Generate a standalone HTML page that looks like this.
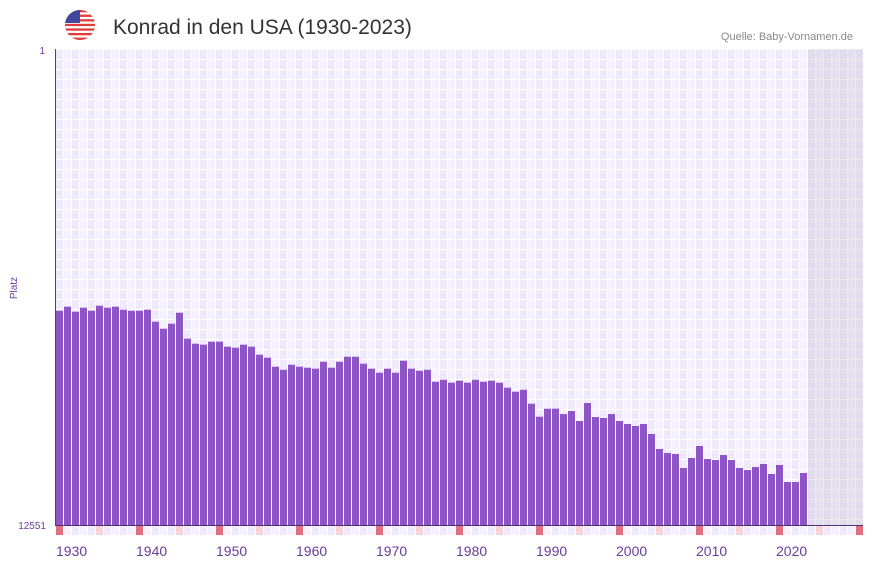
<!DOCTYPE html>
<html><head><meta charset="utf-8"><style>
body{margin:0;background:#fff;width:873px;height:567px;overflow:hidden;font-family:"Liberation Sans",sans-serif}
</style></head><body>
<svg id="chart" width="873" height="567">
<defs>
<clipPath id="flagclip"><circle cx="80" cy="25" r="15"/></clipPath>
<pattern id="cols" x="55" y="0" width="16" height="10" patternUnits="userSpaceOnUse">
<rect width="8" height="10" fill="#efeafa"/><rect x="8" width="8" height="10" fill="#f4f1fc"/>
<rect width="1" height="10" fill="#fff"/><rect x="8" width="1" height="10" fill="#fff"/>
<rect y="9" width="16" height="1" fill="#fff"/>
</pattern>
<pattern id="cols2" x="55" y="0" width="16" height="10" patternUnits="userSpaceOnUse">
<rect width="8" height="10" fill="#efeafa"/><rect x="8" width="8" height="10" fill="#f4f1fc"/>
<rect width="1" height="10" fill="#fff"/><rect x="8" width="1" height="10" fill="#fff"/>
</pattern>
</defs>
<g clip-path="url(#flagclip)">
<rect x="65" y="10" width="30" height="30" fill="#fff"/>
<rect x="65" y="10" width="30" height="2.3" fill="#e03c3c"/>
<rect x="65" y="14.6" width="30" height="2.3" fill="#e03c3c"/>
<rect x="65" y="19.2" width="30" height="2.3" fill="#e03c3c"/>
<rect x="65" y="23.8" width="30" height="2.3" fill="#e03c3c"/>
<rect x="65" y="28.4" width="30" height="2.3" fill="#e03c3c"/>
<rect x="65" y="33" width="30" height="2.3" fill="#e03c3c"/>
<rect x="65" y="37.6" width="30" height="2.4" fill="#e03c3c"/>
<rect x="65" y="10" width="15" height="13" fill="#41479b"/>
</g>
<text x="113" y="34" font-size="21" fill="#333" font-family="'Liberation Sans',sans-serif">Konrad in den USA (1930-2023)</text>
<text x="853" y="40" font-size="11" fill="#888" text-anchor="end">Quelle: Baby-Vornamen.de</text>
<rect x="55" y="49" width="808" height="476" fill="url(#cols)"/>
<rect x="55" y="526" width="808" height="9" fill="url(#cols2)"/>
<rect id="future" x="808" y="49" width="55" height="476" fill="#c8c0d2" opacity="0.35"/>
<g id="bars"></g>
<g id="marks"></g>
<g id="xlabels"></g>
<line x1="55.5" y1="49" x2="55.5" y2="525" stroke="#5a3b82" stroke-width="1"/>
<line x1="55" y1="525.5" x2="863" y2="525.5" stroke="#4a3470" stroke-width="1"/>
<text x="45" y="54" font-size="10" fill="#6a3d9a" text-anchor="end">1</text>
<text x="46" y="529" font-size="10" fill="#6a3d9a" text-anchor="end">12551</text>
<text x="17" y="288" font-size="10" fill="#6a3d9a" text-anchor="middle" transform="rotate(-90 17 288)">Platz</text>
</svg>
<script>
const years=[];for(let y=1930;y<=2023;y++)years.push(y);
const ranks=[6901,6795,6927,6822,6901,6769,6822,6795,6874,6901,6901,6874,7191,7376,7244,6954,7639,7771,7797,7718,7718,7850,7876,7797,7850,8061,8140,8377,8457,8325,8377,8404,8430,8246,8404,8246,8114,8114,8298,8430,8536,8430,8536,8219,8430,8483,8457,8773,8720,8799,8747,8799,8720,8773,8747,8799,8931,9037,8984,9353,9696,9485,9485,9625,9546,9809,9335,9704,9730,9625,9809,9888,9941,9888,10152,10547,10653,10679,11048,10785,10468,10811,10838,10706,10838,11048,11101,11022,10943,11207,10969,11418,11418,11180];
const xTicks=[1930,1940,1950,1960,1970,1980,1990,2000,2010,2020];
const decadeMarks=[1930,1940,1950,1960,1970,1980,1990,2000,2010,2020,2030];
const minorTicks=[1935,1945,1955,1965,1975,1985,1995,2005,2015,2025];
const NS='http://www.w3.org/2000/svg';
const X0=55,YR0=1930,W=8,Y0=49,Y1=525,RMAX=12551;
const xs=y=>X0+1+(y-YR0)*W;
const ys=r=>Y0+(r-1)/(RMAX-1)*(Y1-Y0);
const bars=document.getElementById('bars');
years.forEach((yr,i)=>{const r=document.createElementNS(NS,'rect');
r.setAttribute('x',xs(yr));r.setAttribute('width',7);
const t=ys(ranks[i]);r.setAttribute('y',t);r.setAttribute('height',Y1-t);r.setAttribute('fill','#8e55c7');


bars.appendChild(r);});
const marks=document.getElementById('marks'),xl=document.getElementById('xlabels');
decadeMarks.forEach(yr=>{const r=document.createElementNS(NS,'rect');
r.setAttribute('x',xs(yr));r.setAttribute('y',526);r.setAttribute('width',7);r.setAttribute('height',9);r.setAttribute('fill','#e0707e');


marks.appendChild(r);});
xTicks.forEach(yr=>{
const t=document.createElementNS(NS,'text');t.setAttribute('x',xs(yr));t.setAttribute('y',556);
t.setAttribute('font-size','14');t.setAttribute('fill','#6a3d9a');t.textContent=yr;


xl.appendChild(t);});
minorTicks.forEach(yr=>{const r=document.createElementNS(NS,'rect');
r.setAttribute('x',xs(yr));r.setAttribute('y',526);r.setAttribute('width',7);r.setAttribute('height',9);r.setAttribute('fill','#f6d4dc');


marks.appendChild(r);});
</script>
</body></html>
